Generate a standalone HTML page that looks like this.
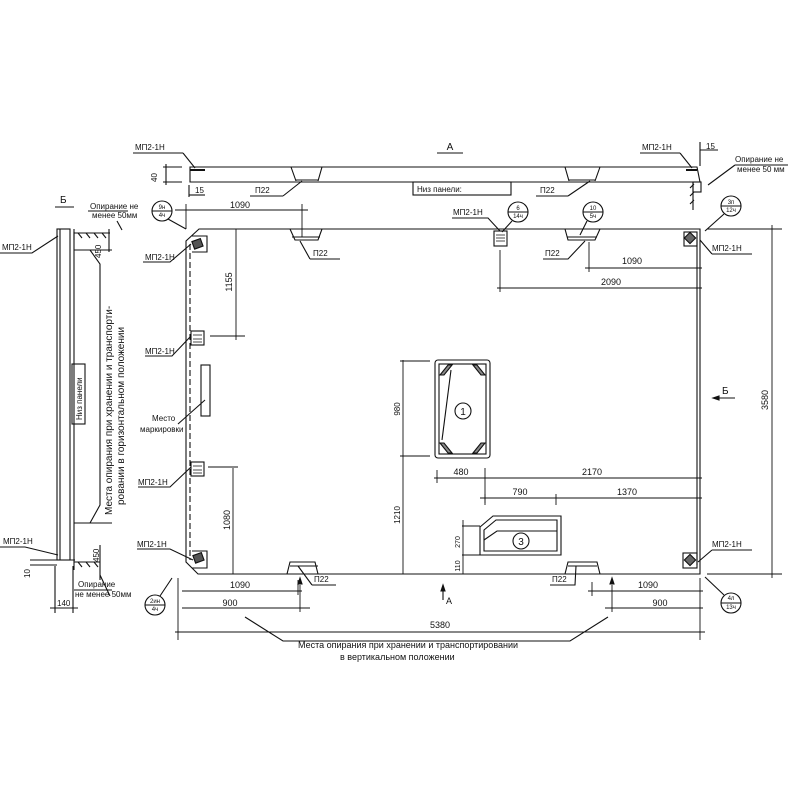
<!DOCTYPE html>
<html><head><meta charset="utf-8"><style>
html,body{margin:0;padding:0;background:#fff}
svg{display:block}
text{font-family:"Liberation Sans","DejaVu Sans",sans-serif;fill:#111}
</style></head><body>
<svg width="800" height="800" viewBox="0 0 800 800" xmlns="http://www.w3.org/2000/svg" stroke="#111" fill="none" stroke-width="1.1">
<!-- TOP SECTION A -->
<text x="450" y="150" font-size="10" stroke="none" text-anchor="middle">А</text>
<line x1="437" y1="153" x2="463" y2="153"/>
<path d="M190 167 L697 167 L700 182 L190 182 Z"/>
<path d="M291 167 L296 181 M322 167 L318 181 M296 180 H318 M565 167 L569 181 M600 167 L595 181 M569 180 H595"/>
<line x1="190" y1="170" x2="205" y2="170" stroke-width="2"/>
<line x1="686" y1="170" x2="697" y2="170" stroke-width="2"/>
<text x="135" y="150" font-size="8" stroke="none">МП2-1Н</text>
<line x1="133" y1="153" x2="183" y2="153"/><line x1="183" y1="153" x2="195" y2="168"/>
<text x="157" y="182" font-size="8" stroke="none" transform="rotate(-90 157 182)">40</text>
<line x1="163" y1="167" x2="182" y2="167"/><line x1="163" y1="182" x2="182" y2="182"/><line x1="166" y1="164" x2="166" y2="185"/>
<text x="195" y="193" font-size="8" stroke="none">15</text>
<line x1="189" y1="185" x2="189" y2="197"/><line x1="189" y1="195" x2="205" y2="195"/>
<text x="255" y="193" font-size="8" stroke="none">П22</text>
<line x1="250" y1="196" x2="283" y2="196"/><line x1="283" y1="196" x2="302" y2="181"/>
<rect x="413" y="182" width="98" height="13"/>
<text x="417" y="192" font-size="8" stroke="none">Низ панели:</text>
<text x="540" y="193" font-size="8" stroke="none">П22</text>
<line x1="536" y1="196" x2="568" y2="196"/><line x1="568" y1="196" x2="590" y2="181"/>
<text x="642" y="150" font-size="8" stroke="none">МП2-1Н</text>
<line x1="640" y1="153" x2="680" y2="153"/><line x1="680" y1="153" x2="692" y2="168"/>
<line x1="700" y1="142" x2="700" y2="166"/><line x1="700" y1="150" x2="718" y2="150"/>
<text x="706" y="149" font-size="8" stroke="none">15</text>
<text x="735" y="162" font-size="8" stroke="none">Опирание не</text>
<text x="737" y="172" font-size="8" stroke="none">менее 50 мм</text>
<line x1="735" y1="165" x2="788" y2="165"/><line x1="735" y1="165" x2="708" y2="185"/>
<rect x="693" y="182" width="8" height="10"/><line x1="693" y1="182" x2="693" y2="210"/>
<path d="M690 188 l4 -4 M690 196 l4 -4 M690 204 l4 -4" />
<!-- MAIN PANEL -->
<path d="M199 229 L700 229 L700 574 L198 574 L186 562 L186 241 Z"/>
<path d="M290 229 L295 240 L318 240 L322 229 M565 229 L568 240 L595 240 L600 229 M287 574 L290 562 L315 562 L318 574 M565 574 L568 562 L597 562 L600 574"/>
<line x1="190" y1="244" x2="190" y2="560" stroke-dasharray="6 3"/>
<line x1="697" y1="240" x2="697" y2="565"/>
<line x1="292" y1="237" x2="320" y2="237"/><line x1="567" y1="237" x2="597" y2="237"/>
<line x1="290" y1="566" x2="318" y2="566"/><line x1="568" y1="566" x2="597" y2="566"/>
<!-- corner plates -->
<path d="M192 236 L207 236 L207 252 L192 252"/><rect x="193" y="240" width="9" height="8" fill="#555" transform="rotate(-20 197 244)"/>
<path d="M192 551 L207 551 L207 568 L192 568"/><rect x="194" y="554" width="9" height="8" fill="#555" transform="rotate(-20 198 558)"/>
<rect x="684" y="232" width="13" height="14"/><rect x="686" y="234" width="8" height="8" fill="#666" transform="rotate(45 690 238)"/>
<rect x="683" y="553" width="14" height="15"/><rect x="686" y="556" width="8" height="8" fill="#666" transform="rotate(45 690 560)"/>
<rect x="191" y="331" width="13" height="14"/><path d="M193 335 h9 M193 339 h9 M193 342 h9" stroke-width="0.8"/>
<rect x="191" y="462" width="13" height="14"/><path d="M193 466 h9 M193 470 h9 M193 473 h9" stroke-width="0.8"/>
<rect x="494" y="231" width="13" height="15"/><path d="M496 235 h9 M496 238 h9 M496 241 h9" stroke-width="0.8"/>
<rect x="201" y="365" width="9" height="51"/>
<!-- circles -->
<g font-size="6" stroke="none" text-anchor="middle">
<text x="162" y="209">9н</text><text x="162" y="217">4ч</text>
<text x="518" y="210">6</text><text x="518" y="218">14ч</text>
<text x="593" y="210">10</text><text x="593" y="218">5ч</text>
<text x="731" y="204">3п</text><text x="731" y="212">12ч</text>
<text x="155" y="603">2ин</text><text x="155" y="611">4ч</text>
<text x="731" y="600">4л</text><text x="731" y="609">13ч</text>
</g>
<circle cx="162" cy="211" r="10"/><line x1="152" y1="211" x2="172" y2="211"/><line x1="168" y1="219" x2="186" y2="229"/>
<circle cx="518" cy="212" r="10"/><line x1="508" y1="212" x2="528" y2="212"/><line x1="512" y1="221" x2="502" y2="232"/>
<circle cx="593" cy="212" r="10"/><line x1="583" y1="212" x2="603" y2="212"/><line x1="587" y1="221" x2="580" y2="235"/>
<circle cx="731" cy="206" r="10"/><line x1="721" y1="206" x2="741" y2="206"/><line x1="724" y1="214" x2="705" y2="231"/>
<circle cx="155" cy="605" r="10"/><line x1="145" y1="605" x2="165" y2="605"/><line x1="160" y1="596" x2="172" y2="578"/>
<circle cx="731" cy="603" r="10"/><line x1="721" y1="603" x2="741" y2="603"/><line x1="724" y1="595" x2="705" y2="577"/>
<!-- labels MP -->
<g font-size="8" stroke="none">
<text x="145" y="260">МП2-1Н</text><text x="145" y="354">МП2-1Н</text>
<text x="138" y="485">МП2-1Н</text><text x="137" y="547">МП2-1Н</text>
<text x="453" y="215">МП2-1Н</text><text x="712" y="251">МП2-1Н</text><text x="712" y="547">МП2-1Н</text>
<text x="313" y="256">П22</text><text x="545" y="256">П22</text>
<text x="314" y="582">П22</text><text x="552" y="582">П22</text>
<text x="152" y="421">Место</text><text x="140" y="432">маркировки</text>
</g>
<path d="M143 262 H170 L191 244"/><path d="M145 356 H172 L191 336"/><path d="M138 487 H170 L191 467"/><path d="M137 549 H170 L193 560"/>
<path d="M452 218 H488 L500 231"/><path d="M712 254 H752 M712 254 L700 240"/><path d="M712 550 H752 M712 550 L698 562"/>
<path d="M310 259 H340 M310 259 L300 241"/><path d="M543 259 H568 L585 241"/><path d="M312 585 H336 M312 585 L298 566"/><path d="M550 585 H575 L576 566"/>
<path d="M178 424 L205 400"/>
<!-- dimensions main -->
<g stroke-width="0.9">
<line x1="186" y1="204" x2="186" y2="229"/><line x1="175" y1="210" x2="308" y2="210"/><line x1="302" y1="204" x2="302" y2="237"/>
<line x1="236" y1="229" x2="236" y2="340"/><line x1="210" y1="336" x2="245" y2="336"/>
<line x1="233" y1="468" x2="233" y2="574"/><line x1="208" y1="467" x2="238" y2="467"/>
<line x1="589" y1="242" x2="589" y2="272"/><line x1="585" y1="268" x2="702" y2="268"/>
<line x1="500" y1="250" x2="500" y2="292"/><line x1="497" y1="288" x2="702" y2="288"/>
<line x1="403" y1="360" x2="403" y2="574"/><line x1="400" y1="361" x2="430" y2="361"/><line x1="400" y1="456" x2="430" y2="456"/>
<line x1="437" y1="470" x2="437" y2="483"/><line x1="485" y1="468" x2="485" y2="503"/><line x1="434" y1="478" x2="702" y2="478"/>
<line x1="485" y1="494" x2="485" y2="505"/><line x1="556" y1="494" x2="556" y2="505"/><line x1="480" y1="498" x2="702" y2="498"/>
<line x1="462" y1="526" x2="480" y2="526"/><line x1="462" y1="555" x2="480" y2="555"/><line x1="463" y1="520" x2="463" y2="574"/>
<line x1="707" y1="229" x2="782" y2="229"/><line x1="707" y1="574" x2="782" y2="574"/><line x1="772" y1="225" x2="772" y2="578"/>
<line x1="178" y1="578" x2="178" y2="640"/><line x1="700" y1="578" x2="700" y2="640"/>
<line x1="182" y1="591" x2="302" y2="591"/><line x1="298" y1="580" x2="298" y2="595"/>
<line x1="182" y1="608" x2="310" y2="608"/><line x1="300" y1="585" x2="300" y2="612"/>
<line x1="175" y1="632" x2="705" y2="632"/>
<line x1="588" y1="591" x2="703" y2="591"/><line x1="592" y1="582" x2="592" y2="596"/>
<line x1="605" y1="608" x2="703" y2="608"/><line x1="612" y1="585" x2="612" y2="612"/>
</g>
<path d="M300 578 l-2 6 h4 z M612 578 l-2 6 h4 z M443 585 l-2 6 h4z" fill="#111"/>
<line x1="443" y1="585" x2="443" y2="600"/><text x="446" y="604" font-size="9" stroke="none">А</text>
<path d="M713 398 H735"/><path d="M713 398 l6 -2 v4 z" fill="#111"/><text x="722" y="394" font-size="10" stroke="none">Б</text>
<g font-size="9" stroke="none" text-anchor="middle">
<text x="240" y="208">1090</text><text x="632" y="264">1090</text><text x="611" y="285">2090</text>
<text x="461" y="475">480</text><text x="592" y="475">2170</text><text x="520" y="495">790</text><text x="627" y="495">1370</text>
<text x="240" y="588">1090</text><text x="230" y="606">900</text><text x="648" y="588">1090</text><text x="660" y="606">900</text>
<text x="440" y="628">5380</text>
<text transform="translate(232 282) rotate(-90)">1155</text>
<text transform="translate(230 520) rotate(-90)">1080</text>
<text transform="translate(400 409) rotate(-90)" font-size="8">980</text>
<text transform="translate(400 515) rotate(-90)" font-size="8">1210</text>
<text transform="translate(460 542) rotate(-90)" font-size="7">270</text>
<text transform="translate(460 566) rotate(-90)" font-size="7">110</text>
<text transform="translate(768 400) rotate(-90)">3580</text>
</g>
<!-- windows -->
<rect x="435" y="360" width="55" height="98" rx="3"/><rect x="439" y="364" width="47" height="90"/>
<path d="M440 375 l8 -10 h4 l-8 10z M485 375 l-8 -10 h-4 l8 10z M440 443 l8 10 h4 l-8 -10z M485 443 l-8 10 h-4 l8 -10z" fill="#888"/>
<line x1="451" y1="370" x2="442" y2="440"/>
<circle cx="463" cy="411" r="8"/><text x="463" y="415" font-size="10" stroke="none" text-anchor="middle">1</text>
<path d="M480 527 L493 516 H561 V555 H480 Z"/><path d="M484 530 L496 520 H557 V551 H484 Z"/>
<path d="M484 540 L497 531 H557"/><circle cx="521" cy="541" r="8"/><text x="521" y="545" font-size="10" stroke="none" text-anchor="middle">3</text>
<!-- bottom leader -->
<path d="M245 617 L283 641 H570 L608 617"/>
<text x="298" y="648" font-size="9" stroke="none">Места опирания при хранении и транспортировании</text>
<text x="340" y="660" font-size="9" stroke="none">в вертикальном положении</text>
<!-- LEFT SECTION Б -->
<text x="60" y="203" font-size="10" stroke="none">Б</text><line x1="55" y1="207" x2="74" y2="207"/>
<rect x="57" y="229" width="13" height="331"/><line x1="60" y1="229" x2="60" y2="560"/>
<line x1="74" y1="232" x2="74" y2="560"/>
<text x="90" y="209" font-size="8" stroke="none">Опирание не</text><text x="92" y="218" font-size="8" stroke="none">менее 50мм</text>
<line x1="88" y1="211" x2="128" y2="211"/><line x1="117" y1="221" x2="122" y2="230"/>
<path d="M74 229 V240 M74 233 H110 M78 233 l4 5 M86 233 l4 5 M94 233 l4 5 M102 233 l4 5"/>
<line x1="109" y1="229" x2="109" y2="252"/><text transform="translate(101 258) rotate(-90)" font-size="8" stroke="none">450</text>
<line x1="74" y1="250" x2="112" y2="250"/><line x1="74" y1="523" x2="112" y2="523"/>
<path d="M90 250 L100 264 V505 L90 523"/>
<text transform="translate(112 515) rotate(-90)" font-size="10" stroke="none">Места опирания при хранении и транспорти-</text>
<text transform="translate(124 505) rotate(-90)" font-size="10" stroke="none">ровании в горизонтальном положении</text>
<rect x="72" y="364" width="13" height="60"/><text transform="translate(82 420) rotate(-90)" font-size="8" stroke="none">Низ панели</text>
<text x="2" y="250" font-size="8" stroke="none">МП2-1Н</text><path d="M0 253 H32 L58 236"/>
<text x="3" y="544" font-size="8" stroke="none">МП2-1Н</text><path d="M0 547 H25 L58 555"/>
<path d="M74 560 V570 M74 562 H100 M78 562 l4 5 M86 562 l4 5 M94 562 l4 5"/>
<line x1="100" y1="545" x2="100" y2="580"/><text transform="translate(99 562) rotate(-90)" font-size="8" stroke="none">450</text>
<text x="78" y="587" font-size="8" stroke="none">Опирание</text><text x="75" y="597" font-size="8" stroke="none">не менее 50мм</text>
<line x1="74" y1="590" x2="112" y2="590"/><line x1="100" y1="575" x2="110" y2="596"/>
<line x1="30" y1="560" x2="75" y2="560"/><line x1="30" y1="565" x2="57" y2="565"/>
<text transform="translate(30 578) rotate(-90)" font-size="8" stroke="none">10</text>
<line x1="55" y1="566" x2="55" y2="613"/><line x1="73" y1="566" x2="73" y2="613"/><line x1="50" y1="608" x2="78" y2="608"/>
<text x="57" y="606" font-size="8" stroke="none">140</text>
</svg>
</body></html>
